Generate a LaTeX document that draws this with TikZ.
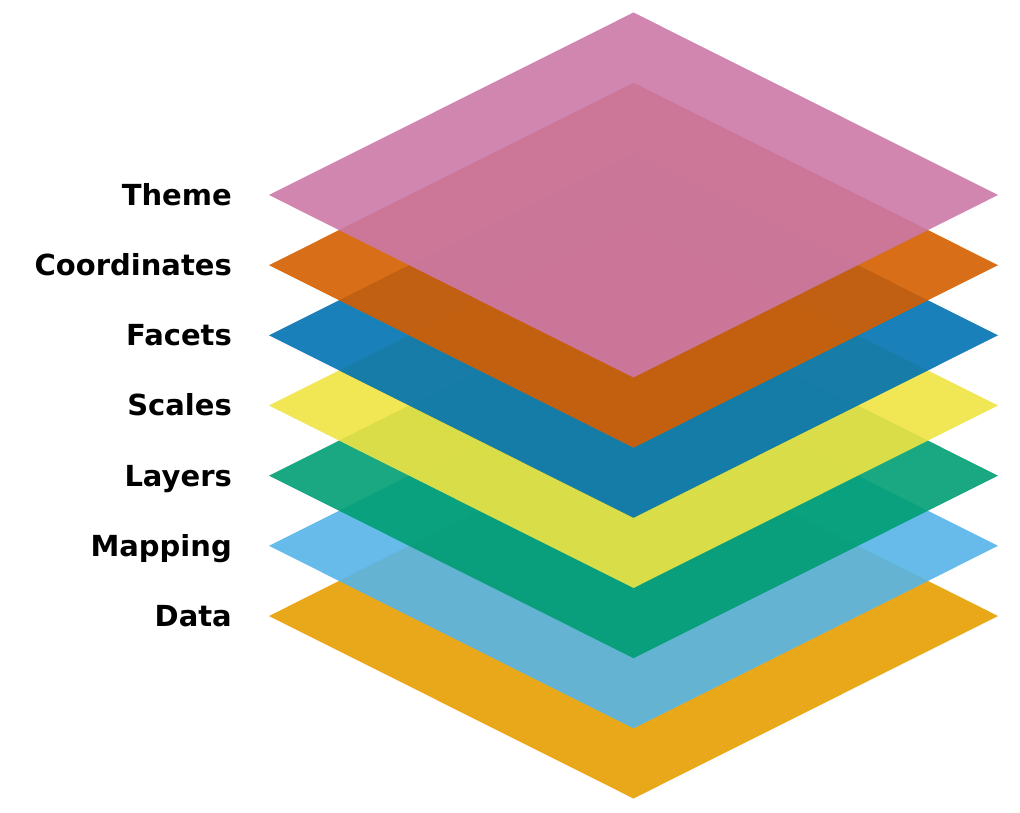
\documentclass[tikz,border=0pt]{standalone}
\usepackage{fontspec}
\setmainfont{DejaVu Sans}
\definecolor{cData}{HTML}{E69F00}
\definecolor{cMapping}{HTML}{56B4E9}
\definecolor{cLayers}{HTML}{009E73}
\definecolor{cScales}{HTML}{F0E442}
\definecolor{cFacets}{HTML}{0072B2}
\definecolor{cCoord}{HTML}{D55E00}
\definecolor{cTheme}{HTML}{CC79A7}
\tikzset{
  layerlab/.style={anchor=base east, inner sep=0pt, font=\fontsize{29pt}{32pt}\selectfont\bfseries},
  sheet/.style={fill opacity=0.9, draw=none}
}
\begin{document}
\begin{tikzpicture}[x=1pt,y=-1pt]
\useasboundingbox (0,0) rectangle (1020,812);
\foreach \i/\c/\t in {0/cData/Data,1/cMapping/Mapping,2/cLayers/Layers,3/cScales/Scales,4/cFacets/Facets,5/cCoord/Coordinates,6/cTheme/Theme}{
  \pgfmathsetmacro{\cy}{616-70.17*\i}
  \fill[sheet, fill=\c] (269,\cy) -- (633.5,\cy-182.5) -- (998,\cy) -- (633.5,\cy+182.5) -- cycle;
  \node[layerlab] (lab\i) at (232,\cy+10.5) {\t};
}
\end{tikzpicture}
\end{document}
